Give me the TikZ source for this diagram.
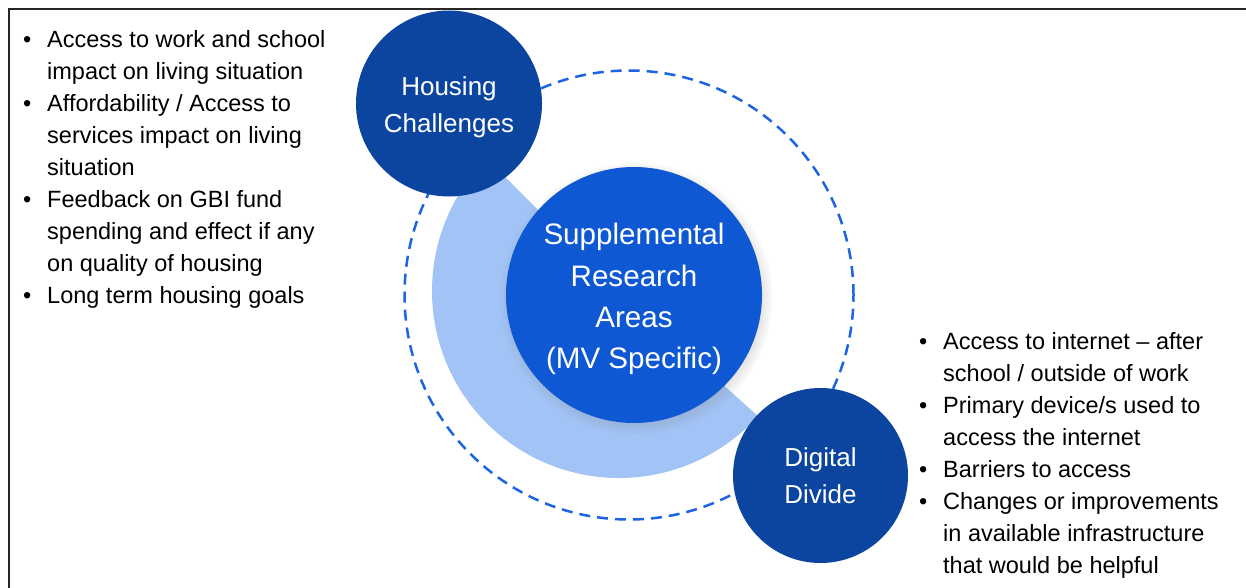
\documentclass[tikz,border=0pt]{standalone}
\usepackage{fontspec}
\setmainfont{Liberation Sans}
\usetikzlibrary{shadows}
\definecolor{darkblue}{RGB}{12,69,160}
\definecolor{midblue}{RGB}{14,88,212}
\definecolor{lightblue}{RGB}{161,195,245}
\definecolor{dashblue}{RGB}{28,100,225}
\begin{document}
\begin{tikzpicture}[x=1pt,y=1pt,
  topic/.style={circle, fill=darkblue, inner sep=0pt, text=white, align=center,
    font=\fontsize{26}{37}\selectfont},
  hub/.style={circle, fill=midblue, minimum size=256pt, inner sep=0pt, text=white,
    align=center, font=\fontsize{29.6}{41.3}\selectfont},
  bullets/.style={anchor=base west, inner sep=0pt, font=\fontsize{23.5}{32}\selectfont},
  ring/.style={draw=dashblue, line width=2.5pt, dash pattern=on 11pt off 7pt},
  frame/.style={line width=2pt, black!85}]
\useasboundingbox (0,0) rectangle (1246,-588);
% frame
\draw[frame] (9,-589) -- (9,-9) -- (1247,-9);
% dashed ring
\coordinate (rc) at (629,-295);
\draw[ring] (rc) circle[radius=224.5];
% light sector
\coordinate (sc) at (619,-291);
\fill[lightblue] (sc) -- ++(135:187) arc[start angle=135, end angle=318, radius=187] -- cycle;
% central circle
\node[hub, circular drop shadow={shadow xshift=2pt, shadow yshift=-3pt, shadow scale=1.07, opacity=0.35}]
  (hub) at (634,-295) {\rule{0pt}{30pt}Supplemental\\Research\\Areas\\(MV Specific)};
% topic circles
\node[topic, minimum size=186pt] (housing) at (449,-103.5) {\rule{0pt}{26pt}Housing\\Challenges};
\node[topic, minimum size=175pt] (digital) at (820.5,-475.5) {Digital\\Divide};
% bullet lists
\node[bullets] (left) at (23,-48) {\begin{tabular}[t]{@{}p{24pt}@{}l@{}}
\textbullet & Access to work and school\\
 & impact on living situation\\
\textbullet & Affordability / Access to\\
 & services impact on living\\
 & situation\\
\textbullet & Feedback on GBI fund\\
 & spending and effect if any\\
 & on quality of housing\\
\textbullet & Long term housing goals
\end{tabular}};
\node[bullets] (right) at (919,-349) {\begin{tabular}[t]{@{}p{24pt}@{}l@{}}
\textbullet & Access to internet – after\\
 & school / outside of work\\
\textbullet & Primary device/s used to\\
 & access the internet\\
\textbullet & Barriers to access\\
\textbullet & Changes or improvements\\
 & in available infrastructure\\
 & that would be helpful
\end{tabular}};
\end{tikzpicture}
\end{document}
